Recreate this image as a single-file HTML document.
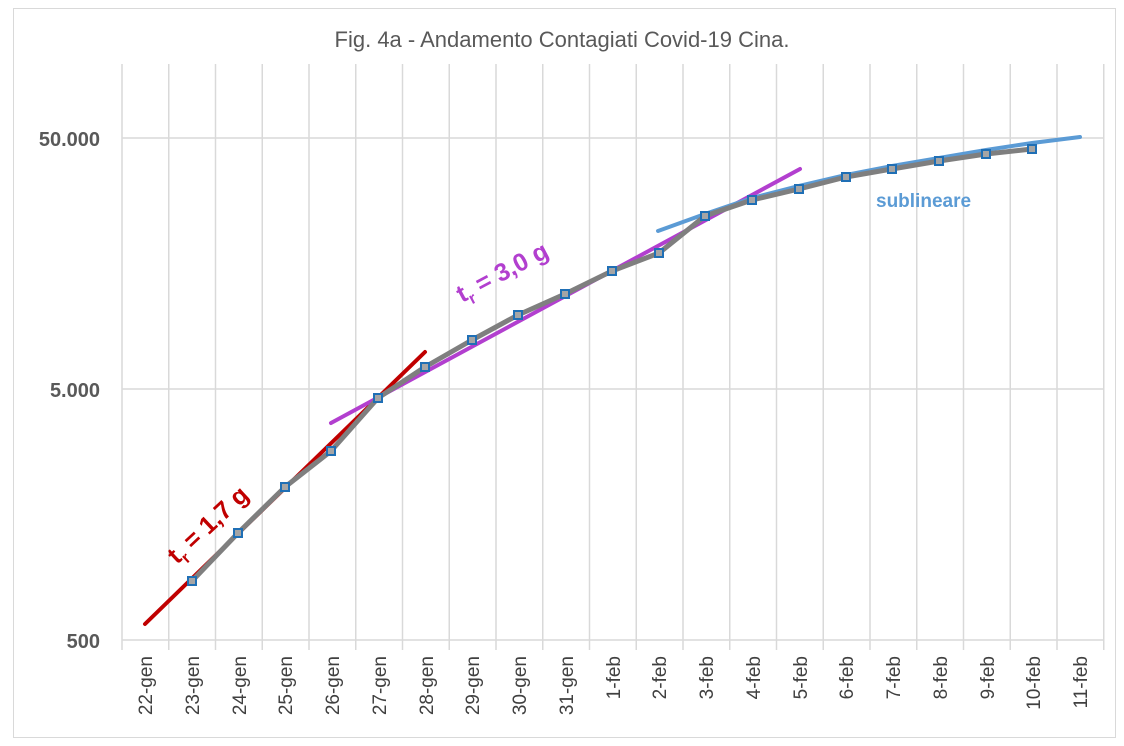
<!DOCTYPE html>
<html><head><meta charset="utf-8"><style>
body{margin:0;background:#fff}
svg{display:block}
text{font-family:"Liberation Sans",sans-serif}
</style></head><body>
<svg width="1124" height="746" viewBox="0 0 1124 746" xmlns="http://www.w3.org/2000/svg">
<rect x="13.5" y="8.5" width="1102" height="729" fill="#fff" stroke="#d9d9d9"/>
<text x="562" y="47" text-anchor="middle" font-size="22" fill="#595959">Fig. 4a - Andamento Contagiati Covid-19 Cina.</text>
<g stroke="#d9d9d9" stroke-width="1.5">
<line x1="122" y1="138" x2="1103" y2="138"/>
<line x1="122" y1="389" x2="1103" y2="389"/>
<line x1="122" y1="640" x2="1103" y2="640"/>
</g>
<g stroke="#d9d9d9" stroke-width="1.5">
<line x1="122" y1="64" x2="122" y2="650"/><line x1="168.75" y1="64" x2="168.75" y2="650"/><line x1="215.5" y1="64" x2="215.5" y2="650"/><line x1="262.25" y1="64" x2="262.25" y2="650"/><line x1="309" y1="64" x2="309" y2="650"/><line x1="355.75" y1="64" x2="355.75" y2="650"/><line x1="402.5" y1="64" x2="402.5" y2="650"/><line x1="449.25" y1="64" x2="449.25" y2="650"/><line x1="496" y1="64" x2="496" y2="650"/><line x1="542.75" y1="64" x2="542.75" y2="650"/><line x1="589.5" y1="64" x2="589.5" y2="650"/><line x1="636.25" y1="64" x2="636.25" y2="650"/><line x1="683" y1="64" x2="683" y2="650"/><line x1="729.75" y1="64" x2="729.75" y2="650"/><line x1="776.5" y1="64" x2="776.5" y2="650"/><line x1="823.25" y1="64" x2="823.25" y2="650"/><line x1="870" y1="64" x2="870" y2="650"/><line x1="916.75" y1="64" x2="916.75" y2="650"/><line x1="963.5" y1="64" x2="963.5" y2="650"/><line x1="1010.25" y1="64" x2="1010.25" y2="650"/><line x1="1057" y1="64" x2="1057" y2="650"/><line x1="1103.75" y1="64" x2="1103.75" y2="650"/>
</g>
<g font-size="20" font-weight="bold" fill="#595959" text-anchor="end">
<text x="100" y="146">50.000</text>
<text x="100" y="397">5.000</text>
<text x="100" y="648">500</text>
</g>
<g font-size="19" fill="#404040" text-anchor="end">
<text transform="translate(152,656) rotate(-90)">22-gen</text>
<text transform="translate(199,656) rotate(-90)">23-gen</text>
<text transform="translate(246,656) rotate(-90)">24-gen</text>
<text transform="translate(292,656) rotate(-90)">25-gen</text>
<text transform="translate(339,656) rotate(-90)">26-gen</text>
<text transform="translate(386,656) rotate(-90)">27-gen</text>
<text transform="translate(433,656) rotate(-90)">28-gen</text>
<text transform="translate(479,656) rotate(-90)">29-gen</text>
<text transform="translate(526,656) rotate(-90)">30-gen</text>
<text transform="translate(573,656) rotate(-90)">31-gen</text>
<text transform="translate(620,656) rotate(-90)">1-feb</text>
<text transform="translate(666,656) rotate(-90)">2-feb</text>
<text transform="translate(713,656) rotate(-90)">3-feb</text>
<text transform="translate(760,656) rotate(-90)">4-feb</text>
<text transform="translate(807,656) rotate(-90)">5-feb</text>
<text transform="translate(853,656) rotate(-90)">6-feb</text>
<text transform="translate(900,656) rotate(-90)">7-feb</text>
<text transform="translate(947,656) rotate(-90)">8-feb</text>
<text transform="translate(994,656) rotate(-90)">9-feb</text>
<text transform="translate(1040,656) rotate(-90)">10-feb</text>
<text transform="translate(1087,656) rotate(-90)">11-feb</text>
</g>
<line x1="145" y1="624" x2="425" y2="352" stroke="#c00000" stroke-width="4" stroke-linecap="round"/>
<line x1="331" y1="423" x2="800" y2="169" stroke="#b23fcf" stroke-width="4" stroke-linecap="round"/>
<polyline fill="none" stroke="#5b9bd5" stroke-width="4" stroke-linecap="round" stroke-linejoin="round" points="658,231 705,214 752,198 799,186 846,175 892,166 939,158 986,150 1032,143 1080,137"/>
<polyline fill="none" stroke="#7f7f7f" stroke-width="5" stroke-linejoin="round" points="192,581 238,533 285,487 331,451 378,398 425,367 472,340 518,315 565,294 612,271 659,253 705,216 752,200 799,189 846,177 892,169 939,161 986,154 1032,149"/>
<g fill="#a5a5a5" stroke="#1f6fb5" stroke-width="2">
<rect x="188" y="577" width="8" height="8"/><rect x="234" y="529" width="8" height="8"/><rect x="281" y="483" width="8" height="8"/><rect x="327" y="447" width="8" height="8"/><rect x="374" y="394" width="8" height="8"/><rect x="421" y="363" width="8" height="8"/><rect x="468" y="336" width="8" height="8"/><rect x="514" y="311" width="8" height="8"/><rect x="561" y="290" width="8" height="8"/><rect x="608" y="267" width="8" height="8"/><rect x="655" y="249" width="8" height="8"/><rect x="701" y="212" width="8" height="8"/><rect x="748" y="196" width="8" height="8"/><rect x="795" y="185" width="8" height="8"/><rect x="842" y="173" width="8" height="8"/><rect x="888" y="165" width="8" height="8"/><rect x="935" y="157" width="8" height="8"/><rect x="982" y="150" width="8" height="8"/><rect x="1028" y="145" width="8" height="8"/>
</g>
<text transform="translate(177,565) rotate(-43)" font-size="25" font-weight="bold" fill="#c00000">t<tspan font-size="16" dy="6">r</tspan><tspan dy="-6"> = 1,7 g</tspan></text>
<text transform="translate(462,303) rotate(-28)" font-size="25" font-weight="bold" fill="#b23fcf">t<tspan font-size="16" dy="6">r</tspan><tspan dy="-6"> = 3,0 g</tspan></text>
<text x="876" y="207" font-size="19" font-weight="bold" fill="#5b9bd5">sublineare</text>
</svg>
</body></html>
